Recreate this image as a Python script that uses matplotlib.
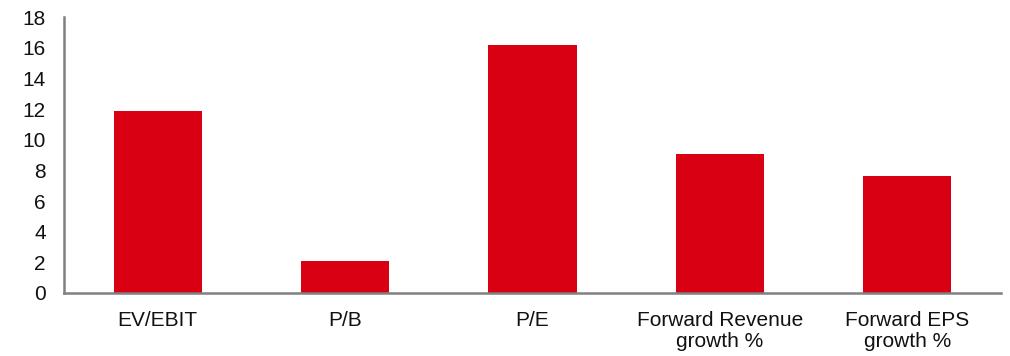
import matplotlib.pyplot as plt

plt.rcParams['font.family'] = ['Liberation Sans', 'DejaVu Sans']

metrics = ["EV/EBIT", "P/B", "P/E", "Forward Revenue\ngrowth %", "Forward EPS\ngrowth %"]
values = [11.9, 2.1, 16.2, 9.1, 7.6]

fig = plt.figure(figsize=(10.1, 3.56), dpi=100)
ax = fig.add_axes([0.0634, 0.177, 0.9276, 0.775])

x = range(len(metrics))
ax.bar(x, values, width=0.47, color="#DA0014")

ax.set_xlim(-0.5, 4.5)
ax.set_ylim(0, 18)
ax.set_yticks(range(0, 19, 2))
ax.set_xticks(list(x))
ax.set_xticklabels(metrics, linespacing=1.15)

for side in ["top", "right"]:
    ax.spines[side].set_visible(False)
for side in ["left", "bottom"]:
    ax.spines[side].set_color("#808080")
    ax.spines[side].set_linewidth(1.8)

ax.tick_params(axis="both", length=0, labelsize=15, colors="#111111")
ax.tick_params(axis="y", pad=13)
ax.tick_params(axis="x", pad=13)

fig.savefig("out.png", dpi=100)
